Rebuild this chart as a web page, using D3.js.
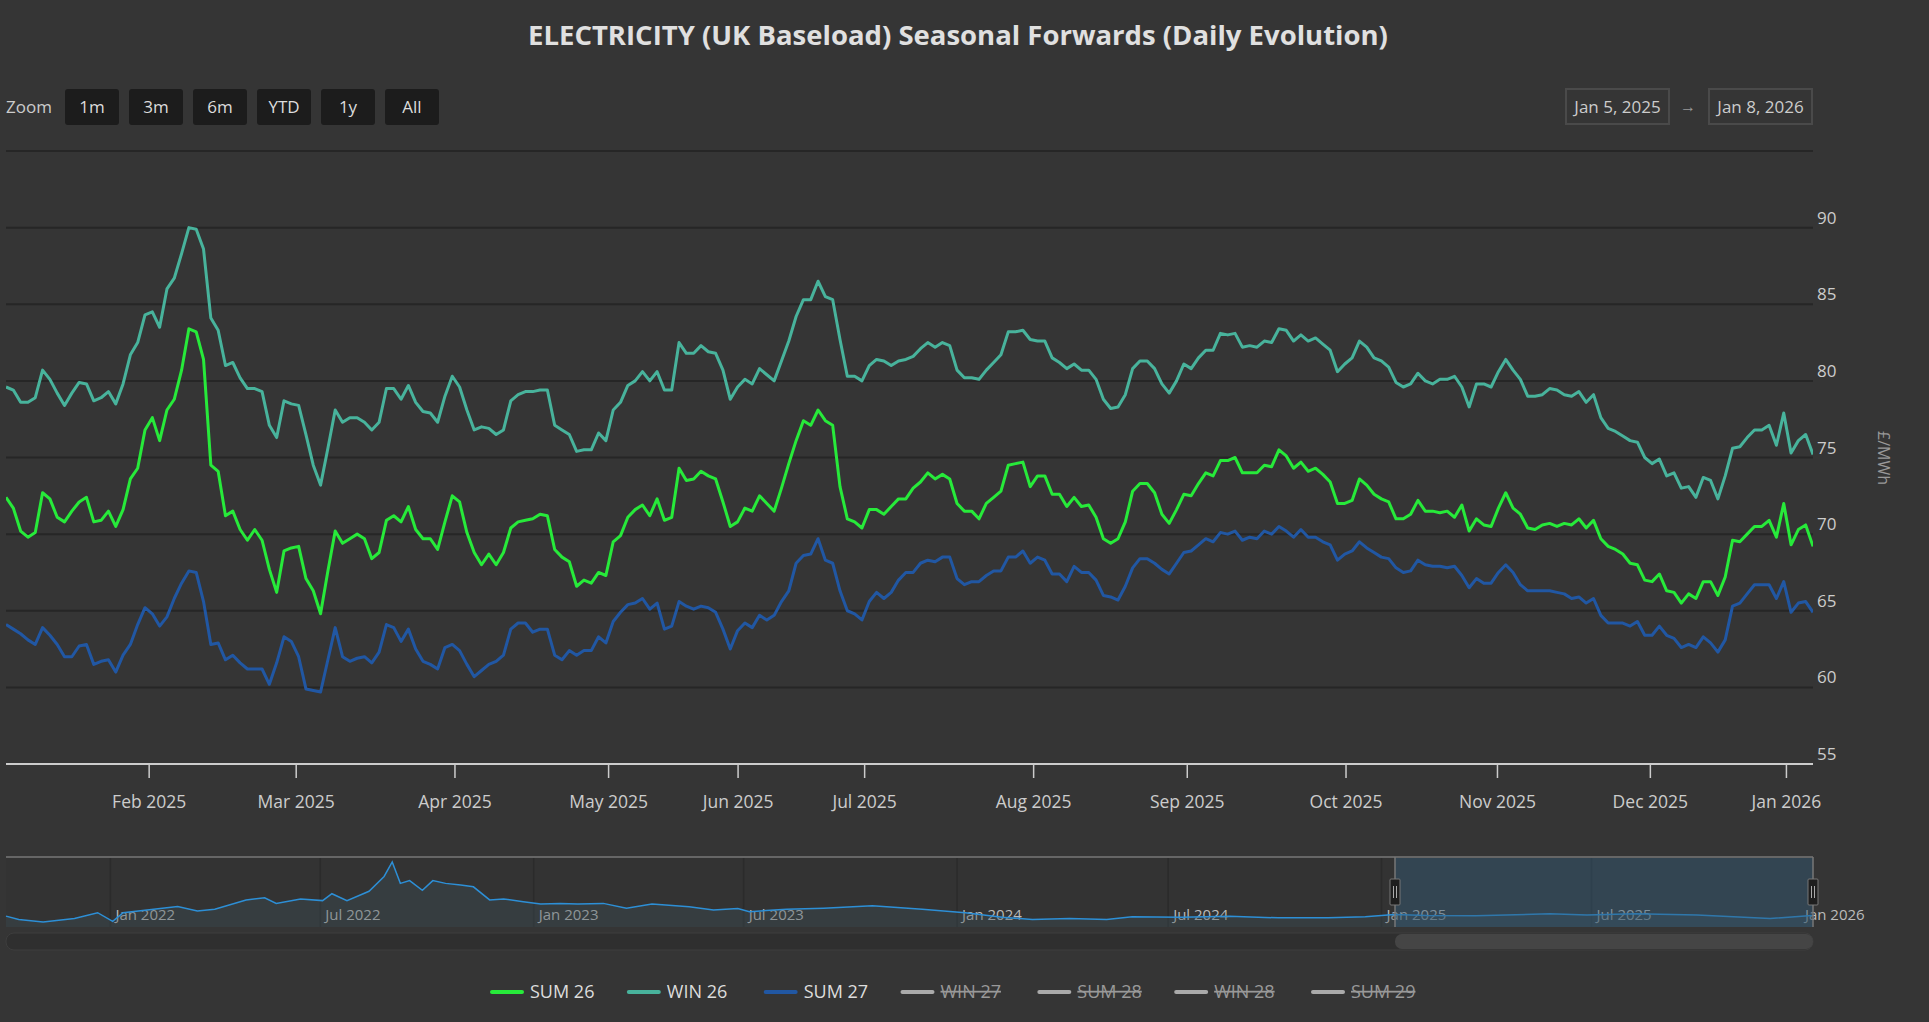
<!DOCTYPE html>
<html><head><meta charset="utf-8">
<script src="https://cdn.jsdelivr.net/npm/d3@7"></script>
<style>
html,body{margin:0;padding:0;background:#353535;}
svg{display:block;font-family:"Open Sans","Noto Sans",sans-serif;}
</style></head><body>
<svg id="c" width="1929" height="1022"></svg>
<script>
// ---- data (main chart, one value per trading session) ----
const win26 = [79.6,79.4,78.6,78.6,78.9,80.7,80.1,79.2,78.4,79.2,79.9,79.8,78.7,78.9,79.3,78.5,79.8,81.7,82.5,84.3,84.5,83.5,86.0,86.7,88.3,90.0,89.9,88.6,84.1,83.3,81.0,81.2,80.2,79.5,79.5,79.3,77.1,76.3,78.7,78.5,78.4,76.5,74.5,73.2,75.6,78.1,77.3,77.6,77.6,77.3,76.8,77.3,79.5,79.5,78.8,79.7,78.6,78.0,77.9,77.3,79.0,80.3,79.6,78.1,76.8,77.0,76.9,76.5,76.8,78.7,79.1,79.3,79.3,79.4,79.4,77.1,76.8,76.5,75.4,75.5,75.5,76.6,76.1,78.1,78.6,79.7,80.0,80.6,80.0,80.6,79.4,79.4,82.5,81.8,81.8,82.3,81.9,81.8,80.7,78.8,79.6,80.1,79.8,80.8,80.4,80.0,81.3,82.6,84.2,85.3,85.3,86.5,85.5,85.3,82.7,80.3,80.3,80.0,81.0,81.4,81.3,81.0,81.3,81.4,81.6,82.1,82.5,82.2,82.5,82.3,80.7,
80.2,80.2,80.1,80.7,81.2,81.7,83.2,83.2,83.3,82.7,82.6,82.6,81.5,81.2,80.8,81.1,80.7,80.7,80.1,78.8,78.2,78.3,79.1,80.8,81.3,81.3,80.8,79.8,79.2,80.0,81.1,80.8,81.5,82.0,82.0,83.1,83.0,83.1,82.2,82.3,82.2,82.6,82.5,83.4,83.3,82.6,83.0,82.6,82.8,82.4,82.0,80.6,81.1,81.5,82.6,82.2,81.5,81.3,80.9,79.9,79.6,79.8,80.5,80.0,79.8,80.1,80.1,80.3,79.6,78.3,79.8,79.8,79.6,80.6,81.4,80.7,80.1,79.0,79.0,79.1,79.5,79.4,79.1,79.0,79.3,78.6,79.1,77.6,76.9,76.7,76.4,76.1,76.0,75.0,74.6,74.9,73.8,74.0,73.0,73.1,72.4,73.7,73.5,72.3,73.8,75.6,75.7,76.3,76.8,76.8,77.1,75.8,77.9,75.3,76.1,76.5,75.2];
const sum26 = [72.4,71.7,70.2,69.8,70.1,72.7,72.3,71.1,70.8,71.5,72.1,72.4,70.8,70.9,71.5,70.5,71.6,73.6,74.3,76.8,77.6,76.1,78.1,78.8,80.7,83.4,83.2,81.4,74.5,74.1,71.2,71.5,70.3,69.6,70.3,69.6,67.7,66.2,68.9,69.1,69.2,67.1,66.3,64.8,67.6,70.2,69.4,69.7,70.0,69.7,68.4,68.8,70.9,71.2,70.8,71.8,70.3,69.7,69.7,69.0,70.8,72.5,72.1,70.1,68.8,68.0,68.7,68.0,68.8,70.4,70.8,70.9,71.0,71.3,71.2,69.0,68.5,68.2,66.6,67.0,66.8,67.5,67.3,69.5,69.9,71.1,71.6,71.9,71.2,72.3,70.9,71.1,74.3,73.5,73.6,74.1,73.8,73.6,72.1,70.5,70.8,71.7,71.5,72.5,72.0,71.5,73.0,74.6,76.1,77.4,77.1,78.1,77.4,77.1,73.1,71.0,70.8,70.4,71.6,71.6,71.3,71.8,72.3,72.3,73.0,73.4,74.0,73.6,73.9,73.6,72.0,
71.5,71.5,71.0,72.0,72.4,72.8,74.5,74.6,74.7,73.1,73.8,73.8,72.6,72.6,71.8,72.4,71.8,71.9,71.1,69.7,69.4,69.7,70.8,72.8,73.3,73.3,72.7,71.3,70.7,71.6,72.6,72.5,73.3,74.0,73.8,74.8,74.8,75.0,74.0,74.0,74.0,74.5,74.4,75.5,75.1,74.3,74.7,74.1,74.3,73.9,73.4,72.0,72.0,72.2,73.6,73.2,72.6,72.3,72.1,71.0,71.0,71.3,72.2,71.5,71.5,71.4,71.5,71.1,71.9,70.2,71.0,70.6,70.5,71.7,72.7,71.7,71.3,70.4,70.3,70.6,70.7,70.5,70.7,70.6,71.0,70.4,70.9,69.7,69.2,69.0,68.7,68.1,68.0,67.0,66.9,67.4,66.3,66.2,65.5,66.1,65.8,66.9,66.9,66.0,67.2,69.6,69.5,70.0,70.5,70.5,70.9,69.8,72.0,69.3,70.3,70.6,69.2];
const sum27 = [64.1,63.8,63.5,63.1,62.8,63.9,63.4,62.8,62.0,62.0,62.7,62.8,61.5,61.7,61.8,61.0,62.1,62.8,64.1,65.2,64.8,64.0,64.6,65.8,66.8,67.6,67.5,65.6,62.8,62.9,61.8,62.1,61.6,61.2,61.2,61.2,60.2,61.6,63.3,63.0,62.0,59.9,59.8,59.7,61.8,63.9,62.0,61.7,61.9,62.0,61.6,62.3,64.1,63.9,63.0,63.8,62.5,61.7,61.5,61.2,62.6,62.8,62.4,61.5,60.7,61.1,61.5,61.7,62.1,63.8,64.2,64.2,63.6,63.8,63.8,62.1,61.8,62.4,62.1,62.4,62.4,63.3,62.9,64.3,64.9,65.4,65.5,65.8,65.1,65.5,63.8,64.0,65.6,65.3,65.1,65.3,65.2,64.9,63.8,62.5,63.7,64.2,63.9,64.7,64.4,64.7,65.6,66.3,68.1,68.6,68.7,69.7,68.3,68.1,66.3,65.0,64.8,64.4,65.6,66.2,65.8,66.2,67.0,67.5,67.5,68.1,68.3,68.2,68.5,68.5,67.1,
66.7,66.9,66.9,67.3,67.6,67.6,68.5,68.5,68.9,68.1,68.5,68.3,67.4,67.4,66.9,67.9,67.5,67.5,67.0,66.0,65.9,65.7,66.6,67.8,68.4,68.4,68.1,67.7,67.4,68.1,68.8,68.9,69.3,69.7,69.5,70.1,70.0,70.2,69.6,69.8,69.7,70.2,70.0,70.5,70.2,69.8,70.3,69.8,69.8,69.5,69.3,68.3,68.7,68.9,69.5,69.1,68.8,68.5,68.4,67.8,67.5,67.6,68.3,68.0,67.9,67.9,67.8,67.9,67.3,66.5,67.1,66.8,66.8,67.5,68.0,67.5,66.7,66.3,66.3,66.3,66.3,66.2,66.1,65.8,65.9,65.5,65.8,64.7,64.2,64.2,64.2,64.0,64.3,63.4,63.4,64.0,63.4,63.2,62.6,62.8,62.6,63.3,62.9,62.3,63.1,65.3,65.5,66.1,66.7,66.7,66.7,65.8,66.9,64.9,65.5,65.6,64.9];
// month ticks: label and trading-session index where the month starts
const monthLabels = ["Feb 2025","Mar 2025","Apr 2025","May 2025","Jun 2025","Jul 2025","Aug 2025","Sep 2025","Oct 2025","Nov 2025","Dec 2025","Jan 2026"];
const monthIdx = [19.5,39.6,61.3,82.3,100,117.3,140.4,161.4,183.1,203.8,224.7,243.3];
const yTicks = [55,60,65,70,75,80,85,90];
// navigator history (SUM 26)
const navDates = ["2021-10-03","2021-10-14","2021-11-04","2021-12-01","2021-12-21","2022-01-03","2022-01-12","2022-02-28","2022-03-17","2022-04-01","2022-04-28","2022-05-14","2022-05-24","2022-06-14","2022-07-03","2022-07-11","2022-07-24","2022-08-12","2022-08-25","2022-09-01","2022-09-08","2022-09-16","2022-09-27","2022-10-06","2022-10-17","2022-10-30","2022-11-10","2022-11-24","2022-12-06","2022-12-23","2023-01-07","2023-01-24","2023-02-08","2023-03-02","2023-03-22","2023-04-13","2023-05-15","2023-06-05","2023-06-26","2023-07-06","2023-08-07","2023-09-08","2023-10-20","2023-12-02","2024-01-08","2024-02-09","2024-03-06","2024-04-07","2024-05-09","2024-05-31","2024-07-12","2024-08-23","2024-10-04","2024-11-16","2024-12-18","2025-01-12","2025-02-09","2025-03-23","2025-05-26","2025-06-27","2025-08-08","2025-09-30","2025-12-02","2026-01-07"];
const navValues = [70,60,53,63,80,55,80,98,85,90,117,123,107,120,115,135,115,142,185,227,165,173,145,173,165,160,155,117,120,112,105,107,105,107,93,105,97,88,92,83,90,93,100,90,80,67,60,63,60,68,67,70,65,65,68,75,72,71,77,73,77,73,63,72];
const navTickLabels = ["Jan 2022","Jul 2022","Jan 2023","Jul 2023","Jan 2024","Jul 2024","Jan 2025","Jul 2025","Jan 2026"];
const navTickDates = ["2022-01-01","2022-07-01","2023-01-01","2023-07-01","2024-01-01","2024-07-01","2025-01-01","2025-07-01","2026-01-01"];
const seriesNames = ["SUM 26","WIN 26","SUM 27","WIN 27","SUM 28","WIN 28","SUM 29"];
const seriesVisible = [true,true,true,false,false,false,false];
const seriesColors = ["#27ea3a","#48b39c","#2157a3","#aaa","#aaa","#aaa","#aaa"];
const zoomButtons = ["1m","3m","6m","YTD","1y","All"];

const svg = d3.select("#c");
const W=1929, L=6, R=1813, T=151, B=764;
svg.append("rect").attr("width",W).attr("height",1022).attr("fill","#353535");
svg.append("text").attr("x",958).attr("y",45).attr("text-anchor","middle")
  .attr("fill","#e0e0e0").attr("font-size",27.5).attr("font-weight","bold")
  .text("ELECTRICITY (UK Baseload) Seasonal Forwards (Daily Evolution)");

// range selector
svg.append("text").attr("x",6).attr("y",113).attr("fill","#ccc").attr("font-size",17).text("Zoom");
zoomButtons.forEach((b,i)=>{
  const bx=65+i*64;
  svg.append("rect").attr("x",bx).attr("y",89).attr("width",54).attr("height",36).attr("rx",3).attr("fill","#1c1c1c");
  svg.append("text").attr("x",bx+27).attr("y",113).attr("text-anchor","middle").attr("fill","#ddd").attr("font-size",17).text(b);
});
[["Jan 5, 2025",1566],["Jan 8, 2026",1709]].forEach(([t,x])=>{
  svg.append("rect").attr("x",x).attr("y",89).attr("width",103).attr("height",35).attr("fill","none").attr("stroke","#4a4a4a").attr("stroke-width",2);
  svg.append("text").attr("x",x+51.5).attr("y",113).attr("text-anchor","middle").attr("fill","#ccc").attr("font-size",17).text(t);
});
svg.append("text").attr("x",1688).attr("y",112).attr("text-anchor","middle").attr("fill","#999").attr("font-size",16).text("→");

// main scales
const x=d3.scaleLinear().domain([0,247]).range([L,R]);
const y=d3.scaleLinear().domain([55,95]).range([B,T]);
const grid=svg.append("g");
[...yTicks,95].forEach(v=>grid.append("line").attr("x1",L).attr("x2",R).attr("y1",y(v)).attr("y2",y(v)).attr("stroke","#262626").attr("stroke-width",2));
yTicks.forEach(v=>svg.append("text").attr("x",1817).attr("y",y(v)-4).attr("fill","#ccc").attr("font-size",17).text(v));
svg.append("text").attr("transform",`translate(1878,458) rotate(90)`).attr("text-anchor","middle").attr("fill","#999").attr("font-size",16).text("£/MWh");
const xAxis=svg.append("g").attr("transform",`translate(0,${B})`)
  .call(d3.axisBottom(x).tickValues(monthIdx).tickFormat((d,i)=>monthLabels[i]).tickSize(14).tickPadding(18));
xAxis.select(".domain").attr("stroke","#ccc").attr("stroke-width",2).attr("d",`M${L},0H${R}`);
xAxis.selectAll(".tick line").attr("stroke","#ccc").attr("stroke-width",1.5);
xAxis.selectAll(".tick text").attr("fill","#ccc").attr("font-size",17.5).attr("font-family","'Open Sans',sans-serif");

svg.append("clipPath").attr("id","clip").append("rect").attr("x",L).attr("y",T).attr("width",R-L).attr("height",B-T);
const line=d3.line().x((d,i)=>x(i)).y(d=>y(d));
[[win26,seriesColors[1]],[sum26,seriesColors[0]],[sum27,seriesColors[2]]].forEach(([data,c])=>{
  svg.append("path").attr("clip-path","url(#clip)").attr("d",line(data)).attr("fill","none").attr("stroke",c).attr("stroke-width",3).attr("stroke-linejoin","round");
});

// navigator
const NT=857, NB=927;
const parse=d3.timeParse("%Y-%m-%d");
const nx=d3.scaleTime().domain([parse("2021-10-03"),parse("2026-01-08")]).range([L,R]);
const ny=d3.scaleLinear().domain(d3.extent(navValues)).range([922,862]);
svg.append("rect").attr("x",L).attr("y",NT).attr("width",R-L).attr("height",NB-NT).attr("fill","#333");
navTickDates.forEach((d,i)=>{
  const xx=nx(parse(d));
  if(i<navTickDates.length-1) svg.append("line").attr("x1",xx).attr("x2",xx).attr("y1",NT).attr("y2",NB).attr("stroke","#2b2b2b").attr("stroke-width",1.5);
  svg.append("text").attr("x",i<navTickDates.length-1?xx+5:xx).attr("y",920).attr("fill","#bbb").attr("font-size",15).text(navTickLabels[i]);
});
const navPts=navDates.map((d,i)=>[parse(d),navValues[i]]);
svg.append("path").attr("d",d3.area().x(d=>nx(d[0])).y0(NB).y1(d=>ny(d[1]))(navPts)).attr("fill","rgba(60,80,90,0.35)");
svg.append("path").attr("d",d3.line().x(d=>nx(d[0])).y(d=>ny(d[1]))(navPts)).attr("fill","none").attr("stroke","#2d8fd6").attr("stroke-width",1.5);
const selL=1395;
svg.append("rect").attr("x",selL).attr("y",NT).attr("width",R-selL).attr("height",NB-NT).attr("fill","rgba(50,90,120,0.45)");
svg.append("line").attr("x1",L).attr("x2",R).attr("y1",NT).attr("y2",NT).attr("stroke","#666").attr("stroke-width",2);
[selL,R].forEach(h=>{
  svg.append("line").attr("x1",h).attr("x2",h).attr("y1",NT).attr("y2",NB).attr("stroke","#777").attr("stroke-width",1.5);
  svg.append("rect").attr("x",h-5).attr("y",879).attr("width",10).attr("height",26).attr("rx",1).attr("fill","#1e1e1e").attr("stroke","#777");
  svg.append("line").attr("x1",h-1.5).attr("x2",h-1.5).attr("y1",886).attr("y2",898).attr("stroke","#aaa");
  svg.append("line").attr("x1",h+1.5).attr("x2",h+1.5).attr("y1",886).attr("y2",898).attr("stroke","#aaa");
});
svg.append("rect").attr("x",L).attr("y",933).attr("width",R-L).attr("height",17).attr("rx",8).attr("fill","#2f2f2f").attr("stroke","#3e3e3e");
svg.append("rect").attr("x",selL).attr("y",934).attr("width",R-selL).attr("height",15).attr("rx",7).attr("fill","#454545");

// legend
const lx=d3.scaleLinear().domain([0,seriesNames.length-1]).range([492,1313]);
seriesNames.forEach((n,i)=>{
  const x0=lx(i), vis=seriesVisible[i];
  svg.append("line").attr("x1",x0).attr("x2",x0+30).attr("y1",992).attr("y2",992).attr("stroke",vis?seriesColors[i]:"#aaa").attr("stroke-width",4).attr("stroke-linecap","round");
  svg.append("text").attr("x",x0+38).attr("y",998).attr("fill",vis?"#ddd":"#999").attr("font-size",18)
    .attr("text-decoration",vis?null:"line-through").text(n);
});
</script></body></html>
